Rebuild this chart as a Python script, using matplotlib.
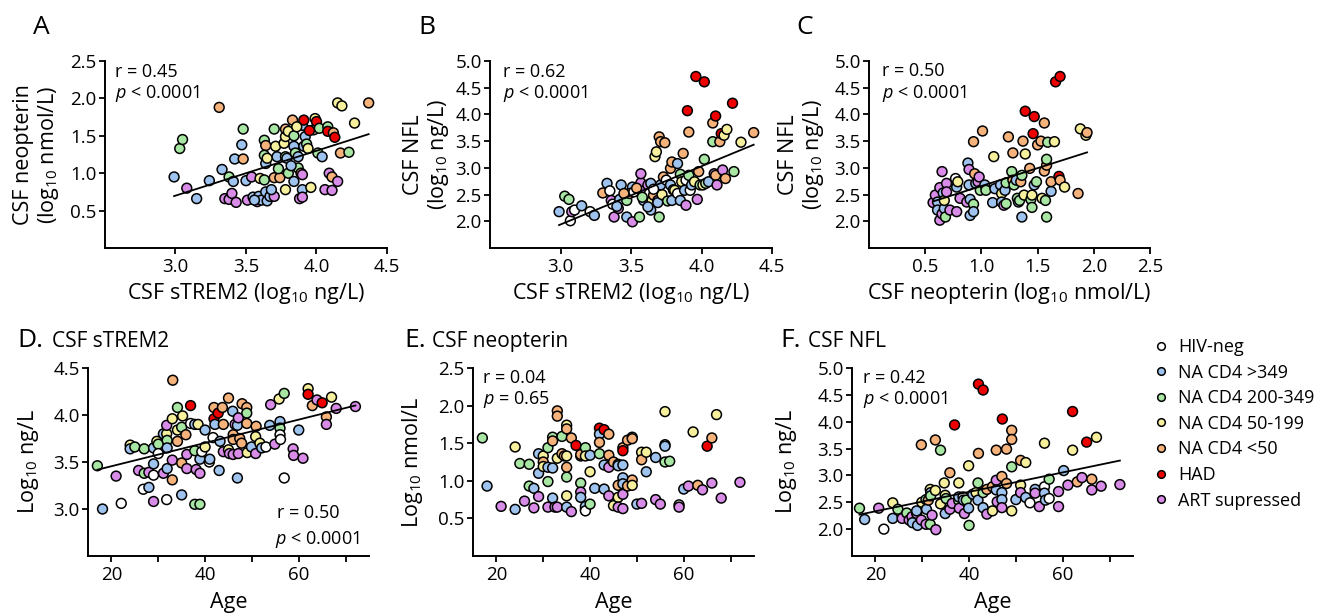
import numpy as np
import matplotlib
matplotlib.use("Agg")
import matplotlib.pyplot as plt
from matplotlib.lines import Line2D
from matplotlib.ticker import FixedLocator

plt.rcParams['font.family'] = ['Open Sans', 'DejaVu Sans']
plt.rcParams['mathtext.fontset'] = 'custom'
plt.rcParams['mathtext.rm'] = 'Open Sans'
plt.rcParams['mathtext.it'] = 'Open Sans:italic'
plt.rcParams['mathtext.default'] = 'regular'

# group codes -> legend label / fill colour
groups = ['w', 'b', 'g', 'y', 'o', 'r', 'p']
group_labels = ['HIV-neg', 'NA CD4 >349', 'NA CD4 200-349', 'NA CD4 50-199',
                'NA CD4 <50', 'HAD', 'ART supressed']
group_colors = {'w': '#ffffff', 'b': '#9ec3ee', 'g': '#a8e6a3', 'y': '#f6f09c',
                'o': '#f5b27a', 'r': '#ee0000', 'p': '#d88ce8'}

# A: CSF sTREM2 vs CSF neopterin
a_x = [2.99, 3.03, 3.05, 3.08, 3.15, 3.24, 3.31, 3.33, 3.35, 3.38,
       3.38, 3.40, 3.41, 3.42, 3.48, 3.43, 3.47, 3.48, 3.50, 3.51,
       3.54, 3.55, 3.58, 3.59, 3.60, 3.61, 3.63, 3.64, 3.63, 3.64,
       3.63, 3.64, 3.65, 3.67, 3.70, 3.70, 3.72, 3.70, 3.71, 3.74,
       3.77, 3.78, 3.78, 3.80, 3.78, 3.79, 3.80, 3.78, 3.84, 3.84,
       3.84, 3.83, 3.85, 3.87, 3.87, 3.88, 3.89, 3.90, 3.90, 3.91,
       3.91, 3.92, 3.93, 3.94, 3.90, 3.90, 3.96, 3.98, 3.99, 4.00,
       4.02, 4.01, 4.04, 4.08, 4.08, 4.06, 4.09, 4.11, 4.11, 4.12,
       4.13, 4.15, 4.15, 4.18, 4.17, 4.23, 4.27, 4.37, 3.65, 3.73,
       3.82, 3.56, 3.68, 3.86, 3.95]
a_y = [0.95, 1.33, 1.45, 0.80, 0.66, 0.90, 1.88, 1.05, 0.66, 0.95,
       0.65, 0.73, 0.89, 1.19, 1.19, 0.61, 1.38, 1.59, 0.90, 0.64,
       0.95, 0.68, 0.62, 0.69, 0.93, 0.64, 0.91, 0.75, 1.44, 1.37,
       1.24, 1.13, 0.63, 0.69, 0.69, 0.94, 1.22, 1.59, 1.36, 0.94,
       1.40, 1.49, 1.59, 1.56, 1.22, 1.20, 1.00, 0.78, 1.50, 1.36,
       0.89, 1.71, 1.27, 1.07, 1.22, 0.66, 1.00, 0.98, 1.64, 1.36,
       1.71, 1.49, 1.39, 1.33, 0.78, 0.68, 0.81, 1.58, 1.73, 1.69,
       1.60, 1.27, 1.22, 1.62, 1.56, 0.78, 1.00, 0.95, 0.77, 1.54,
       1.48, 0.89, 1.94, 1.90, 1.27, 1.28, 1.67, 1.94, 1.20, 1.06,
       1.10, 0.64, 0.78, 1.62, 1.57]
a_grp = "".join(["bggpbbobpg", "ppbbopbgbp", "pbpbybgbgo", "gbbbpobgyo",
                 "yyoygbgygb", "boggbpopbb", "rbgybpyoyr", "ggbgrppopo",
                 "rpyyogyoyg", "bbbyr"])

# B: CSF sTREM2 vs CSF NFL
b_x = [2.99, 3.03, 3.06, 3.07, 3.08, 3.10, 3.15, 3.21, 3.24, 3.30,
       3.33, 3.35, 3.36, 3.37, 3.38, 3.41, 3.42, 3.43, 3.47, 3.47,
       3.51, 3.51, 3.49, 3.52, 3.56, 3.57, 3.57, 3.59, 3.60, 3.62,
       3.63, 3.64, 3.65, 3.64, 3.66, 3.67, 3.68, 3.70, 3.71, 3.74,
       3.69, 3.69, 3.70, 3.72, 3.71, 3.73, 3.75, 3.76, 3.78, 3.78,
       3.79, 3.79, 3.80, 3.81, 3.83, 3.83, 3.85, 3.85, 3.86, 3.87,
       3.88, 3.89, 3.89, 3.90, 3.91, 3.91, 3.92, 3.93, 3.95, 3.96,
       3.97, 3.98, 3.99, 4.01, 4.02, 4.02, 4.03, 4.05, 4.08, 4.08,
       4.10, 4.09, 4.10, 4.11, 4.13, 4.14, 4.16, 4.18, 4.15, 4.17,
       4.22, 4.23, 4.28, 4.37, 3.62, 3.54, 3.66, 3.58, 3.45, 3.40]
b_y = [2.18, 2.47, 2.41, 2.01, 2.18, 2.21, 2.29, 2.18, 2.11, 2.53,
       2.71, 2.57, 2.39, 2.32, 2.08, 2.24, 2.41, 2.68, 2.39, 2.08,
       2.64, 1.99, 2.52, 2.55, 2.08, 2.72, 2.89, 2.39, 2.58, 2.68,
       2.52, 2.21, 2.39, 2.71, 2.49, 3.21, 3.30, 3.58, 3.49, 3.47,
       2.39, 2.35, 2.08, 2.50, 2.68, 2.83, 2.77, 2.38, 2.99, 2.68,
       3.11, 2.39, 2.59, 2.58, 2.52, 3.08, 2.39, 2.88, 2.74, 3.27,
       2.58, 2.30, 2.77, 4.07, 2.86, 3.67, 2.58, 2.68, 2.74, 4.71,
       2.41, 2.93, 2.68, 2.68, 4.61, 3.16, 2.71, 2.74, 3.49, 3.84,
       3.97, 2.89, 2.86, 2.68, 3.49, 3.64, 3.61, 3.72, 2.96, 2.80,
       4.21, 2.93, 3.48, 3.66, 2.27, 2.62, 2.60, 2.45, 2.52, 2.28]
b_grp = "".join(["bggwpwbwbo", "bwpwppbbgb", "bpowgppbpp", "wbyboyyooo",
                 "pbgybowgob", "obgywbbgyo", "bpwrgowbyr", "pogyrggbgo",
                 "rpoporyypo", "rgyobowgob"])

# C: CSF neopterin vs CSF NFL
c_x = [0.57, 0.59, 0.61, 0.61, 0.63, 0.63, 0.65, 0.66, 0.65, 0.67,
       0.67, 0.68, 0.69, 0.69, 0.72, 0.77, 0.78, 0.79, 0.78, 0.81,
       0.87, 0.88, 0.89, 0.89, 0.90, 0.90, 0.93, 0.93, 0.93, 0.94,
       0.95, 0.97, 0.98, 0.99, 1.01, 1.03, 1.04, 1.10, 1.11, 1.12,
       1.17, 1.18, 1.18, 1.20, 1.22, 1.21, 1.22, 1.24, 1.27, 1.28,
       1.28, 1.29, 1.31, 1.32, 1.33, 1.34, 1.35, 1.36, 1.36, 1.37,
       1.38, 1.39, 1.39, 1.43, 1.44, 1.45, 1.45, 1.46, 1.47, 1.47,
       1.49, 1.50, 1.53, 1.54, 1.56, 1.56, 1.57, 1.58, 1.58, 1.59,
       1.58, 1.62, 1.62, 1.65, 1.66, 1.70, 1.69, 1.70, 1.74, 1.86,
       1.88, 1.93, 1.94]
c_y = [2.35, 2.49, 2.36, 2.21, 2.63, 2.02, 2.93, 2.53, 2.14, 2.24,
       2.39, 2.08, 2.71, 2.55, 2.21, 2.80, 2.64, 2.74, 2.18, 2.43,
       2.36, 3.09, 2.97, 2.68, 2.41, 2.11, 2.32, 2.18, 3.49, 2.89,
       2.71, 2.74, 2.83, 2.58, 3.69, 2.68, 2.58, 2.35, 3.21, 2.61,
       2.68, 2.52, 2.36, 2.30, 2.33, 2.58, 2.72, 3.58, 2.93, 3.28,
       2.77, 2.68, 2.77, 2.43, 2.36, 2.39, 2.74, 2.86, 2.08, 3.50,
       2.49, 3.26, 4.06, 2.99, 2.41, 2.26, 2.49, 3.64, 3.96, 2.68,
       2.74, 3.43, 3.50, 2.43, 3.84, 2.94, 2.39, 3.05, 3.16, 3.48,
       2.08, 2.56, 2.74, 3.49, 4.61, 4.71, 2.84, 2.77, 2.64, 2.52,
       3.73, 3.61, 3.66]
c_grp = "".join(["ppbbpppbpb", "ygpppwbypp", "pbpbbbgboo", "bppgobgbyb",
                 "bybpgbgogo", "ogbgbgogbo", "yyroggyrrb", "gooyoogogg",
                 "gboyrrroyo", "yyo"])

# D: age vs CSF sTREM2
d_x = [17.0, 18.1, 21.0, 22.1, 24.0, 24.0, 25.0, 25.8, 26.8, 27.0,
       27.0, 28.0, 28.0, 29.0, 29.0, 29.0, 29.0, 29.7, 30.0, 30.0,
       31.1, 31.1, 31.8, 31.8, 31.9, 31.9, 31.9, 31.8, 33.0, 33.0,
       33.1, 33.0, 34.1, 34.1, 34.1, 35.0, 35.0, 35.0, 35.2, 35.9,
       36.1, 36.1, 36.9, 36.9, 37.8, 37.8, 37.8, 38.1, 38.5, 38.9,
       38.9, 38.9, 39.3, 40.0, 40.0, 40.9, 41.0, 41.7, 41.9, 41.9,
       42.1, 42.8, 43.0, 43.2, 43.7, 43.9, 43.9, 45.0, 45.0, 45.2,
       45.9, 46.0, 46.0, 46.0, 46.4, 46.9, 46.9, 47.1, 47.1, 47.4,
       47.8, 47.9, 48.9, 48.9, 48.9, 49.0, 49.9, 50.8, 50.8, 50.9,
       51.7, 52.1, 53.0, 53.8, 54.0, 54.9, 55.8, 56.0, 56.0, 56.0,
       56.1, 56.9, 56.9, 58.8, 58.9, 60.0, 60.9, 62.0, 62.0, 62.9,
       63.9, 65.0, 65.9, 65.9, 67.0, 68.0, 72.1]
d_y = [3.46, 3.00, 3.35, 3.06, 3.68, 3.64, 3.66, 3.41, 3.21, 3.38,
       3.64, 3.23, 3.39, 3.08, 3.36, 3.48, 3.65, 3.72, 3.69, 3.59,
       3.38, 3.80, 3.80, 3.10, 3.73, 3.65, 3.43, 3.89, 3.52, 3.31,
       4.37, 3.96, 4.08, 3.84, 3.72, 3.15, 3.49, 3.87, 3.99, 3.79,
       3.58, 3.43, 4.10, 3.91, 3.90, 3.05, 3.62, 3.42, 3.90, 3.05,
       3.53, 3.38, 3.61, 3.84, 3.66, 3.50, 3.53, 3.76, 4.08, 3.96,
       3.90, 4.02, 3.41, 3.72, 4.08, 3.90, 3.61, 4.18, 3.63, 3.59,
       4.04, 3.79, 3.74, 3.58, 3.90, 3.33, 3.89, 3.97, 3.59, 3.75,
       3.70, 4.12, 4.08, 4.02, 3.91, 3.60, 3.66, 3.59, 3.77, 3.88,
       3.70, 3.65, 3.66, 3.89, 4.11, 3.69, 4.17, 3.93, 3.86, 3.79,
       3.74, 4.23, 3.33, 3.64, 3.57, 3.84, 3.54, 4.28, 4.22, 4.10,
       4.16, 4.13, 3.98, 3.90, 4.19, 4.07, 4.09]
d_grp = "".join(["gbpwybgpwg", "gbppwbbygw", "pbywgbbppo", "oygyobogyo",
                 "pprwbggpyg", "bpwbywbwor", "brbboopoyp", "booppbbppo",
                 "ooogoybpyo", "ybwbppybgw", "wgwppbpyro", "propypp"])

# E: age vs CSF neopterin
e_x = [17, 18, 21, 24, 24, 25, 26, 27, 27, 28,
       28, 29, 29, 29, 30, 30, 30, 31, 31, 31,
       31, 32, 32, 32, 32, 32.5, 33, 33, 33, 33,
       34, 34, 34.5, 35, 35, 35, 35, 35, 35, 35,
       36, 36, 37, 38, 38, 38, 38, 38, 39, 39,
       39, 39, 39, 40, 40, 40, 41, 42, 42, 42,
       42, 43, 43, 43, 44, 44, 44, 44, 45, 45,
       46, 46, 46, 46, 46, 47, 47, 47, 47, 47,
       47, 47, 48, 48, 49, 49, 49, 49, 50, 51,
       51, 51, 52, 52, 54, 54, 55, 56, 56, 56,
       56, 57, 59, 59, 60, 61, 62, 63, 64, 65,
       66, 66, 67, 68, 72]
e_y = [1.57, 0.93, 0.66, 0.62, 1.45, 1.23, 0.73, 0.93, 1.22, 0.64,
       0.90, 1.36, 1.10, 0.79, 1.33, 1.25, 1.19, 1.18, 1.44, 0.99,
       0.65, 1.17, 0.77, 1.58, 1.53, 0.65, 0.65, 1.93, 1.86, 1.30,
       1.59, 1.36, 1.33, 1.74, 1.69, 1.05, 1.18, 1.33, 0.80, 0.65,
       0.59, 1.57, 1.47, 1.33, 1.35, 0.97, 0.85, 0.78, 1.44, 1.33,
       0.62, 0.66, 0.60, 1.34, 1.12, 0.69, 0.90, 1.70, 1.62, 1.51,
       1.36, 1.68, 1.21, 0.89, 1.62, 1.34, 1.18, 0.80, 1.25, 0.67,
       1.22, 1.20, 0.94, 0.78, 0.65, 1.44, 1.40, 1.21, 1.04, 0.96,
       0.82, 0.63, 1.54, 0.93, 1.58, 1.56, 1.01, 0.94, 0.69, 0.70,
       1.38, 1.28, 1.38, 1.12, 1.31, 0.75, 0.69, 1.92, 1.48, 1.46,
       1.25, 1.26, 0.68, 0.65, 0.89, 0.93, 1.65, 0.94, 0.88, 1.46,
       1.57, 0.97, 1.88, 0.77, 0.98]
e_grp = "".join(["gbpbygpggp", "bbbpyoybgg", "pbbgoppooy", "gooyogoyyb",
                 "porgogpbgy", "pbwbygbrbo", "grbbooppoy", "gboyporbbb",
                 "ppoogooybp", "yoybbppywb", "ggwpbpyopr", "opypp"])

# F: age vs CSF NFL
f_x = [16.6, 17.7, 20.7, 21.8, 23.7, 23.7, 24.8, 25.7, 26.7, 27.2,
       27.8, 27.9, 28.8, 28.8, 29.0, 29.8, 29.9, 29.8, 30.8, 30.8,
       30.9, 31.3, 31.7, 31.8, 31.7, 31.8, 32.1, 32.8, 32.8, 32.9,
       33.9, 33.9, 34.7, 34.9, 34.9, 35.1, 35.9, 35.9, 36.4, 36.9,
       37.8, 37.8, 37.8, 37.9, 38.7, 38.8, 39.0, 39.4, 39.9, 39.9,
       40.0, 40.8, 41.5, 41.9, 41.9, 42.0, 42.0, 43.0, 43.0, 43.0,
       43.8, 43.8, 45.0, 45.0, 45.8, 45.8, 45.8, 46.0, 47.1, 47.0,
       47.0, 47.0, 47.0, 48.0, 48.0, 49.1, 49.1, 49.1, 49.1, 50.0,
       51.0, 51.0, 51.0, 52.1, 52.1, 53.0, 54.1, 54.1, 55.0, 56.1,
       56.1, 56.1, 56.3, 57.1, 57.1, 59.1, 59.1, 60.2, 61.1, 62.1,
       62.1, 63.1, 64.1, 65.1, 66.2, 66.2, 67.2, 68.2, 72.2]
f_y = [2.39, 2.18, 2.39, 2.00, 2.49, 2.20, 2.37, 2.20, 2.30, 2.17,
       2.23, 2.12, 2.29, 2.34, 2.07, 3.57, 2.50, 2.17, 2.55, 2.09,
       2.37, 2.54, 2.74, 2.68, 2.09, 2.62, 2.26, 2.72, 3.66, 1.99,
       3.47, 2.47, 2.86, 2.63, 2.29, 2.57, 3.05, 2.37, 2.48, 3.94,
       2.86, 2.53, 2.60, 2.39, 2.60, 2.54, 2.29, 2.54, 3.18, 2.39,
       2.07, 2.65, 2.68, 2.86, 2.54, 3.41, 4.70, 4.59, 2.40, 2.68,
       2.28, 2.74, 2.34, 2.79, 2.91, 3.47, 2.73, 2.51, 4.05, 2.98,
       2.68, 2.55, 2.40, 3.49, 2.85, 3.84, 3.67, 3.16, 2.34, 2.55,
       3.28, 2.82, 2.68, 3.24, 2.59, 2.49, 2.74, 2.67, 2.42, 3.60,
       2.79, 2.67, 2.54, 2.57, 2.93, 2.70, 2.42, 3.09, 2.82, 3.47,
       4.19, 2.88, 2.96, 3.62, 2.93, 2.73, 3.71, 2.80, 2.83]
f_grp = "".join(["gbpwybgpgp", "pbpbboypgp", "boybggpyop", "gyyybgoppr",
                 "ygbpwbpgyb", "gbygborrbg", "poyopobpro", "bbpoooogyb",
                 "oypybwbppy", "wbbwgppbpy", "ropropypp"])

# fitted lines: (slope, intercept)
fit_a = (0.60, -1.10)
fit_b = (1.09, -1.33)
fit_c = (0.67, 1.99)
fit_d = (0.0124, 3.207)
fit_f = (0.0181, 1.97)

W, H = 1322, 616
fig = plt.figure(figsize=(W / 100, H / 100), dpi=100)

TICK_FS = 13.5
LABEL_FS = 15.5
TITLE_FS = 15
STAT_FS = 13


def make_axes(l, t, r, b):
    return fig.add_axes([l / W, 1 - b / H, (r - l) / W, (b - t) / H])


def style(ax, xlim, ylim, xticks, yticks, xfmt, yfmt, minor_x=None):
    ax.set_xlim(*xlim)
    ax.set_ylim(*ylim)
    ax.xaxis.set_major_locator(FixedLocator(xticks))
    ax.yaxis.set_major_locator(FixedLocator(yticks))
    ax.set_xticklabels([xfmt.format(v) for v in xticks])
    ax.set_yticklabels([yfmt.format(v) for v in yticks])
    if minor_x is not None:
        ax.xaxis.set_minor_locator(FixedLocator(minor_x))
    for s in ['top', 'right']:
        ax.spines[s].set_visible(False)
    for s in ['left', 'bottom']:
        ax.spines[s].set_linewidth(1.4)
    ax.tick_params(which='both', direction='out', width=1.3, labelsize=TICK_FS,
                   colors='black')
    ax.tick_params(axis='y', which='major', length=4.5, pad=1.5)
    ax.tick_params(axis='x', which='major', length=4.5, pad=3)
    ax.tick_params(axis='x', which='minor', length=4.5)
    ax.patch.set_alpha(0)


def scatter(ax, x, y, grp, fit=None):
    cols = [group_colors[g] for g in grp]
    ax.scatter(x, y, s=50, c=cols, edgecolors='black', linewidths=1.1,
               zorder=3, clip_on=False)
    if fit is not None:
        xs = np.array([min(x), max(x)])
        ax.plot(xs, fit[0] * xs + fit[1], color='black', lw=1.3, zorder=4)


box_a, box_b, box_c = (105, 61, 387, 248), (490, 61, 772, 248), (869, 61, 1150, 248)
box_d, box_e, box_f = (88, 368, 369, 556), (473, 368, 754, 556), (852, 368, 1133, 556)

# ---- row 1 ----
ax_a = make_axes(*box_a)
style(ax_a, (2.5, 4.5), (0, 2.5), [3.0, 3.5, 4.0, 4.5], [0.5, 1.0, 1.5, 2.0, 2.5],
      '{:.1f}', '{:.1f}')
scatter(ax_a, a_x, a_y, a_grp, fit_a)

ax_b = make_axes(*box_b)
style(ax_b, (2.5, 4.5), (1.5, 5.0), [3.0, 3.5, 4.0, 4.5],
      [2.0, 2.5, 3.0, 3.5, 4.0, 4.5, 5.0], '{:.1f}', '{:.1f}')
scatter(ax_b, b_x, b_y, b_grp, fit_b)

ax_c = make_axes(*box_c)
style(ax_c, (0, 2.5), (1.5, 5.0), [0.5, 1.0, 1.5, 2.0, 2.5],
      [2.0, 2.5, 3.0, 3.5, 4.0, 4.5, 5.0], '{:.1f}', '{:.1f}')
scatter(ax_c, c_x, c_y, c_grp, fit_c)

# ---- row 2 ----
ax_d = make_axes(*box_d)
style(ax_d, (15, 75), (2.5, 4.5), [20, 40, 60], [3.0, 3.5, 4.0, 4.5],
      '{:d}', '{:.1f}', minor_x=[30, 50, 70])
scatter(ax_d, d_x, d_y, d_grp, fit_d)

ax_e = make_axes(*box_e)
style(ax_e, (15, 75), (0, 2.5), [20, 40, 60], [0.5, 1.0, 1.5, 2.0, 2.5],
      '{:d}', '{:.1f}', minor_x=[30, 50, 70])
scatter(ax_e, e_x, e_y, e_grp)

ax_f = make_axes(*box_f)
style(ax_f, (15, 75), (1.5, 5.0), [20, 40, 60],
      [2.0, 2.5, 3.0, 3.5, 4.0, 4.5, 5.0], '{:d}', '{:.1f}', minor_x=[30, 50, 70])
scatter(ax_f, f_x, f_y, f_grp, fit_f)

# axis labels
ax_a.set_ylabel('CSF neopterin\n(log$_{10}$ nmol/L)', fontsize=LABEL_FS, linespacing=1.1)
ax_a.yaxis.set_label_coords(-0.155, 0.5)
ax_b.set_ylabel('CSF NFL\n(log$_{10}$ ng/L)', fontsize=LABEL_FS, linespacing=1.1)
ax_b.yaxis.set_label_coords(-0.138, 0.5)
ax_c.set_ylabel('CSF NFL\n(log$_{10}$ ng/L)', fontsize=LABEL_FS, linespacing=1.1)
ax_c.yaxis.set_label_coords(-0.152, 0.5)
ax_d.set_ylabel('Log$_{10}$ ng/L', fontsize=LABEL_FS)
ax_d.yaxis.set_label_coords(-0.166, 0.5)
ax_e.set_ylabel('Log$_{10}$ nmol/L', fontsize=LABEL_FS)
ax_e.yaxis.set_label_coords(-0.172, 0.5)
ax_f.set_ylabel('Log$_{10}$ ng/L', fontsize=LABEL_FS)
ax_f.yaxis.set_label_coords(-0.19, 0.5)

for ax in (ax_a, ax_b):
    ax.set_xlabel('CSF sTREM2 (log$_{10}$ ng/L)', fontsize=LABEL_FS)
    ax.xaxis.set_label_coords(0.5, -0.175)
ax_c.set_xlabel('CSF neopterin (log$_{10}$ nmol/L)', fontsize=LABEL_FS)
ax_c.xaxis.set_label_coords(0.5, -0.175)
for ax in (ax_d, ax_e, ax_f):
    ax.set_xlabel('Age', fontsize=LABEL_FS)
    ax.xaxis.set_label_coords(0.5, -0.19)


# statistics text, positioned in figure pixels relative to each axes box
def stat(ax, px, py, txt, box):
    l, t, r, b = box
    ax.text((px - l) / (r - l), 1 - (py - t) / (b - t), txt,
            transform=ax.transAxes, fontsize=STAT_FS, ha='left', va='center')


stat(ax_a, 115, 72, 'r = 0.45', box_a)
stat(ax_a, 115, 94, r'$\mathit{p}$ < 0.0001', box_a)
stat(ax_b, 503, 72, 'r = 0.62', box_b)
stat(ax_b, 503, 94, r'$\mathit{p}$ < 0.0001', box_b)
stat(ax_c, 882, 71, 'r = 0.50', box_c)
stat(ax_c, 882, 94, r'$\mathit{p}$ < 0.0001', box_c)
stat(ax_d, 277, 513, 'r = 0.50', box_d)
stat(ax_d, 275, 540, r'$\mathit{p}$ < 0.0001', box_d)
stat(ax_e, 483, 378, 'r = 0.04', box_e)
stat(ax_e, 483, 400, r'$\mathit{p}$ = 0.65', box_e)
stat(ax_f, 863, 378, 'r = 0.42', box_f)
stat(ax_f, 863, 400, r'$\mathit{p}$ < 0.0001', box_f)

# panel letters and titles
for letter, px in [('A', 41), ('B', 427), ('C', 805)]:
    fig.text(px / W, 1 - 28 / H, letter, fontsize=19, ha='center', va='center')
for letter, lx, title, tx in [('D.', 17, 'CSF sTREM2', 52),
                              ('E.', 404, 'CSF neopterin', 432),
                              ('F.', 780, 'CSF NFL', 808)]:
    fig.text(lx / W, 1 - 347 / H, letter, fontsize=19, ha='left', va='baseline')
    fig.text(tx / W, 1 - 347 / H, title, fontsize=TITLE_FS, ha='left', va='baseline')

# legend
handles = [Line2D([], [], marker='o', ls='', markerfacecolor=group_colors[g],
                  markeredgecolor='black', markeredgewidth=1.1, markersize=5.5)
           for g in groups]
fig.legend(handles, group_labels, loc='upper left',
           bbox_to_anchor=(1154 / W, 1 - 338 / H), frameon=False, fontsize=13,
           handlelength=0.8, handletextpad=0.55, labelspacing=0.42,
           borderpad=0, borderaxespad=0)

fig.savefig('out.png', dpi=100)
